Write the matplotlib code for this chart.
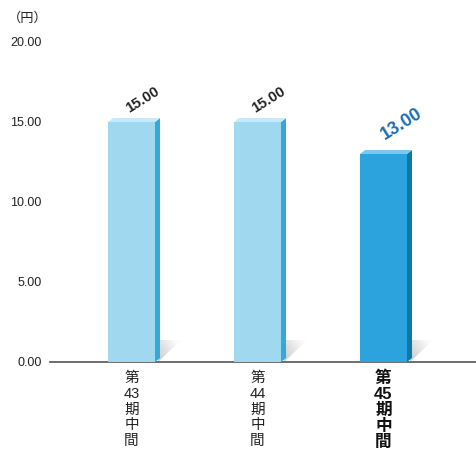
import numpy as np
import matplotlib.pyplot as plt
from matplotlib.patches import Polygon
from matplotlib.colors import LinearSegmentedColormap

categories = ["第\n43\n期\n中\n間", "第\n44\n期\n中\n間", "第\n45\n期\n中\n間"]
values = [15.00, 15.00, 13.00]
value_labels = ["15.00", "15.00", "13.00"]
yticks = [0, 5, 10, 15, 20]

front_colors = ["#a0d8ef", "#a0d8ef", "#2ca3dc"]
side_colors = ["#35a8d4", "#35a8d4", "#0b78a6"]
top_colors = ["#c8eaf8", "#c8eaf8", "#7cc8ec"]

plt.rcParams['font.family'] = ['Liberation Sans', 'Noto Sans CJK JP', 'DejaVu Sans']

fig = plt.figure(figsize=(4.76, 4.53), dpi=100)
W, H = 476, 453
ax = fig.add_axes([50 / W, (H - 362) / H, 426 / W, 320 / H])

px_x = 126.0  # pixels per x unit
px_y = 16.0   # pixels per y unit
x = np.arange(len(values))
bw = 47 / px_x
dx = 5 / px_x
dy = 4 / px_y

ax.set_xlim(-81.5 / px_x, 2 + 92.5 / px_x)
ax.set_ylim(0, 20)

# shadows: right triangle next to each bar foot
sh_cmap = LinearSegmentedColormap.from_list('s', ['#c8c8c8', '#fbfbfb'])
gx, gy = np.meshgrid(np.linspace(0, 1, 60), np.linspace(1, 0, 60))
grad = np.clip(0.75 * gx + 0.45 * gy, 0, 1)
for xi in x:
    xr = xi + bw / 2 + dx
    w, h = 21 / px_x, 22 / px_y
    shp = Polygon([(xr - 2 / px_x, 0), (xr, h), (xr + w, h)],
                  closed=True, facecolor='none', edgecolor='none')
    ax.add_patch(shp)
    im = ax.imshow(grad, extent=(xr - 2 / px_x, xr + w, 0, h), aspect='auto',
                   cmap=sh_cmap, vmin=0, vmax=1, zorder=1, origin='upper')
    im.set_clip_path(shp)

ax.bar(x, values, width=bw, color=front_colors, zorder=3)
for xi, v, sc, tc in zip(x, values, side_colors, top_colors):
    xl, xr = xi - bw / 2, xi + bw / 2
    ax.add_patch(Polygon([(xr, 0), (xr + dx, dy), (xr + dx, v + dy), (xr, v)],
                         closed=True, facecolor=sc, edgecolor='none', zorder=3))
    ax.add_patch(Polygon([(xl, v), (xl + dx, v + dy), (xr + dx, v + dy), (xr, v)],
                         closed=True, facecolor=tc, edgecolor='none', zorder=3))

# value labels
for i, (xi, v, lab) in enumerate(zip(x, values, value_labels)):
    if i == 2:
        ax.annotate(lab, (xi, v), xytext=(18, 30), textcoords='offset pixels',
                    ha='center', va='center', rotation=32, fontsize=13,
                    fontweight='bold', color='#1c6db3')
    else:
        ax.annotate(lab, (xi, v), xytext=(11, 22), textcoords='offset pixels',
                    ha='center', va='center', rotation=32, fontsize=10.5,
                    fontweight='bold', color='#222222')

# category labels (vertical stacked)
for i, (xi, cat) in enumerate(zip(x, categories)):
    if i == 2:
        ax.annotate(cat, (xi, 0), xytext=(0, -9), textcoords='offset pixels',
                    ha='center', va='top', fontsize=12, fontweight='bold',
                    linespacing=1.08, color='#111111')
    else:
        ax.annotate(cat, (xi, 0), xytext=(0, -9), textcoords='offset pixels',
                    ha='center', va='top', fontsize=10.5, linespacing=1.16,
                    color='#222222')

ax.set_yticks(yticks)
ax.set_yticklabels([f"{t:.2f}" for t in yticks], fontsize=9, color='#222222')
ax.tick_params(axis='y', length=0, pad=6)
ax.set_xticks([])
for s in ['top', 'right', 'left']:
    ax.spines[s].set_visible(False)
ax.spines['bottom'].set_color('#555555')
ax.spines['bottom'].set_linewidth(1.2)

fig.text(8 / W, 1 - 18 / H, "（円）", fontsize=9.5, ha='left', va='center',
         color='#222222', family=['Noto Sans CJK JP', 'DejaVu Sans'])

fig.savefig("out.png", dpi=100)
